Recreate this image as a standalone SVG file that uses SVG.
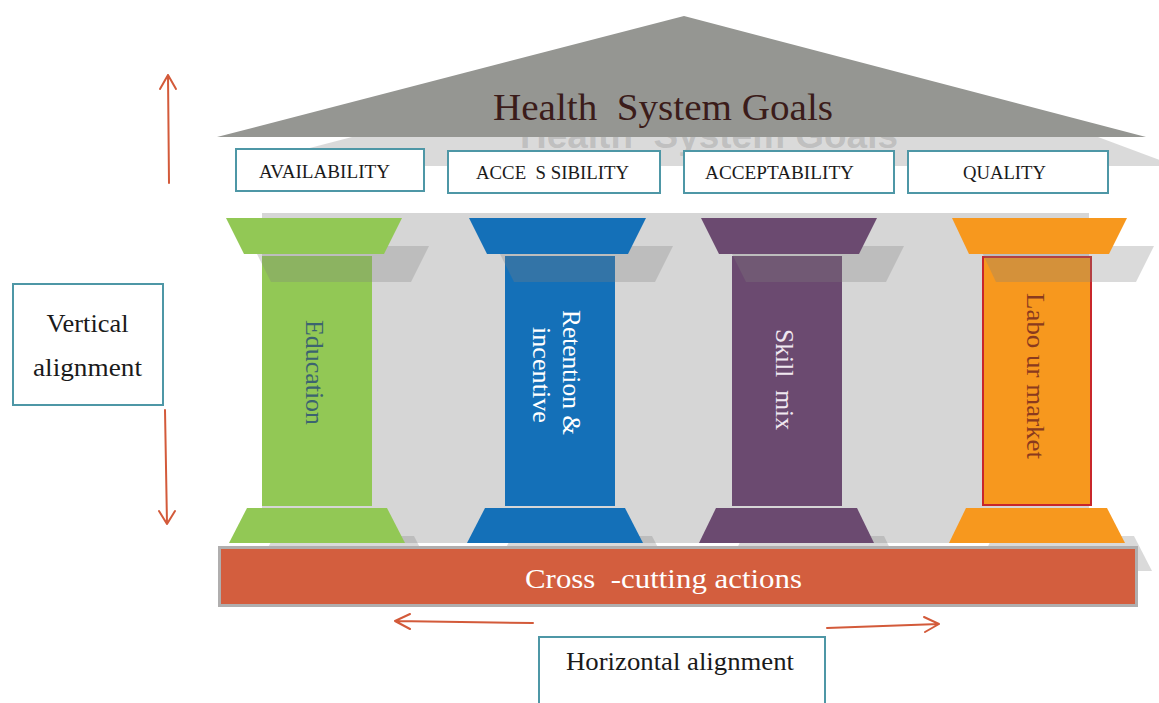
<svg xmlns="http://www.w3.org/2000/svg" width="1159" height="703" viewBox="0 0 1159 703">
<style>
.serif{font-family:"Liberation Serif","DejaVu Serif",serif}
.shadow{fill:#7e7e7e;fill-opacity:0.29}
.box{fill:#ffffff;stroke:#4e97a6;stroke-width:2}
.boxtxt{font-size:19px;fill:#1a1a1a;text-anchor:middle}
.arrow{stroke:#d35a3a;stroke-width:2;fill:none;stroke-linecap:round;stroke-linejoin:round}
.ptxt{font-size:26px;text-anchor:middle}
</style>
<rect width="1159" height="703" fill="#ffffff"/>

<g id="roof">
  <polygon class="shadow" points="352,137 1098,137 1176,166 241,166"/>
  <text x="520" y="148" textLength="378" lengthAdjust="spacingAndGlyphs" font-family="Liberation Sans, Arial, sans-serif" font-weight="bold" font-size="37" class="shadow" xml:space="preserve">Health  System Goals</text>
  <polygon points="684,16 1146,137 217,137" fill="#959692"/>
  <text x="493" y="120" textLength="340" lengthAdjust="spacingAndGlyphs" class="serif" font-size="38" fill="#3b1c1a" xml:space="preserve">Health  System Goals</text>
</g>

<g id="goal-availability">
  <rect class="box" x="236" y="149" width="188" height="42"/>
  <text class="serif boxtxt" x="324.5" y="178" textLength="131" lengthAdjust="spacingAndGlyphs">AVAILABILITY</text>
</g>
<g id="goal-accessibility">
  <rect class="box" x="448" y="151" width="212" height="42"/>
  <text class="serif boxtxt" x="552.5" y="179" textLength="153" lengthAdjust="spacingAndGlyphs" xml:space="preserve">ACCE  S SIBILITY</text>
</g>
<g id="goal-acceptability">
  <rect class="box" x="684" y="151" width="210" height="42"/>
  <text class="serif boxtxt" x="779.5" y="179" textLength="149" lengthAdjust="spacingAndGlyphs">ACCEPTABILITY</text>
</g>
<g id="goal-quality">
  <rect class="box" x="908" y="151" width="200" height="42"/>
  <text class="serif boxtxt" x="1004.5" y="179" textLength="83" lengthAdjust="spacingAndGlyphs">QUALITY</text>
</g>

<g id="backdrop">
  <rect x="262" y="213" width="827" height="330" fill="#d6d6d6"/>
</g>

<g id="pillar-education">
  <rect x="262" y="256" width="110" height="250" fill="#92c855"/>
  <polygon class="shadow" points="253,246 429,246 411,282 271,282"/>
  <polygon class="shadow" points="274,536 414,536 432,571 256,571"/>
  <polygon points="226,218 402,218 384,254 244,254" fill="#92c855"/>
  <polygon points="247,508 387,508 405,543 229,543" fill="#92c855"/>
  <text class="serif ptxt" transform="translate(306,372.5) rotate(90)" fill="#3c6470" textLength="105" lengthAdjust="spacingAndGlyphs">Education</text>
</g>

<g id="pillar-retention">
  <rect x="505" y="256" width="110" height="250" fill="#1470b8"/>
  <polygon class="shadow" points="496,246 673,246 655,282 514,282"/>
  <polygon class="shadow" points="512,536 652,536 670,571 494,571"/>
  <polygon points="469,218 646,218 628,254 487,254" fill="#1470b8"/>
  <polygon points="485,508 625,508 643,543 467,543" fill="#1470b8"/>
  <text class="serif ptxt" transform="translate(563,372.5) rotate(90)" fill="#ffffff" textLength="125" lengthAdjust="spacingAndGlyphs">Retention &amp;</text>
  <text class="serif ptxt" transform="translate(533,375) rotate(90)" fill="#ffffff" textLength="96" lengthAdjust="spacingAndGlyphs">incentive</text>
</g>

<g id="pillar-skill">
  <rect x="732" y="256" width="110" height="250" fill="#6b4a70"/>
  <polygon class="shadow" points="728,246 904,246 886,282 746,282"/>
  <polygon class="shadow" points="743,536 884,536 901,571 726,571"/>
  <polygon points="701,218 877,218 859,254 719,254" fill="#6b4a70"/>
  <polygon points="716,508 857,508 874,543 699,543" fill="#6b4a70"/>
  <text class="serif ptxt" transform="translate(776,379.5) rotate(90)" fill="#f0e8f0" textLength="101" lengthAdjust="spacingAndGlyphs" xml:space="preserve">Skill  mix</text>
</g>

<g id="pillar-labour">
  <rect x="983" y="257" width="108" height="248" fill="#f7981e" stroke="#c8262b" stroke-width="2"/>
  <polygon class="shadow" points="979,246 1154,246 1136,282 996,282"/>
  <polygon class="shadow" points="993,536 1134,536 1152,571 976,571"/>
  <polygon points="952,218 1127,218 1109,254 969,254" fill="#f7981e"/>
  <polygon points="966,508 1107,508 1125,543 949,543" fill="#f7981e"/>
  <text class="serif ptxt" transform="translate(1027,376) rotate(90)" fill="#8a3a1e" textLength="166" lengthAdjust="spacingAndGlyphs">Labo ur market</text>
</g>

<g id="cross-cutting">
  <rect x="219.5" y="547.5" width="917" height="58" fill="#d35e3e" stroke="#b0aeae" stroke-width="3"/>
  <text class="serif" x="525" y="588" font-size="28" fill="#ffffff" textLength="277" lengthAdjust="spacingAndGlyphs" xml:space="preserve">Cross  -cutting actions</text>
</g>

<g id="vertical-alignment">
  <rect class="box" x="13" y="284" width="150" height="121"/>
  <text class="serif" x="87.5" y="332" font-size="25" fill="#1a1a1a" text-anchor="middle" textLength="82" lengthAdjust="spacingAndGlyphs">Vertical</text>
  <text class="serif" x="87.5" y="376" font-size="25" fill="#1a1a1a" text-anchor="middle" textLength="109" lengthAdjust="spacingAndGlyphs">alignment</text>
</g>

<g id="horizontal-alignment">
  <rect class="box" x="539" y="637" width="286" height="90"/>
  <text class="serif" x="566" y="670" font-size="25" fill="#1a1a1a" textLength="228" lengthAdjust="spacingAndGlyphs">Horizontal alignment</text>
</g>

<g id="connectors">
  <path class="arrow" d="M169,183 L168,75 M160,89 L168,75 L176,89"/>
  <path class="arrow" d="M165,410 L167,524 M159,511 L167,524 L175,511"/>
  <path class="arrow" d="M533,623 L395,621 M410,614 L395,621 L410,629"/>
  <path class="arrow" d="M827,628 L939,624 M924,617 L939,624 L925,632"/>
</g>
</svg>
